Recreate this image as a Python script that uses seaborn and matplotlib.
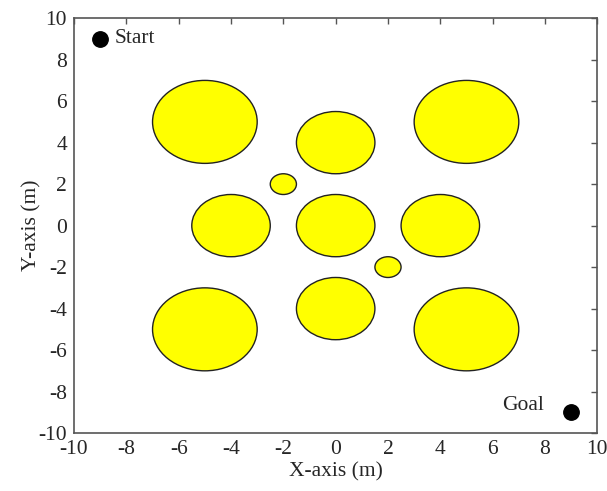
import matplotlib
matplotlib.use("Agg")
import matplotlib.pyplot as plt
from matplotlib.patches import Ellipse
import seaborn as sns
import pandas as pd

sns.set_style("white")
plt.rcParams['font.family'] = ['Liberation Serif', 'DejaVu Serif']

# Obstacles: centre x, centre y, radius
obs_x = [-5, 5, -5, 5, 0, 0, 0, -4, 4, -2, 2]
obs_y = [5, 5, -5, -5, 4, 0, -4, 0, 0, 2, -2]
obs_r = [2, 2, 2, 2, 1.5, 1.5, 1.5, 1.5, 1.5, 0.5, 0.5]

point_names = ["Start", "Goal"]
point_x = [-9, 9]
point_y = [9, -9]

ticks = list(range(-10, 11, 2))

fig = plt.figure(figsize=(6.07, 4.91), dpi=100)
ax = fig.add_axes([0.122, 0.118, 0.862, 0.845])

for cx, cy, r in zip(obs_x, obs_y, obs_r):
    ax.add_patch(Ellipse((cx, cy), 2 * r, 2 * r, facecolor="#ffff00",
                         edgecolor="#222222", linewidth=1.0, zorder=2))

df = pd.DataFrame({"x": point_x, "y": point_y, "name": point_names})
sns.scatterplot(data=df, x="x", y="y", ax=ax, color="black", s=125,
                edgecolor="black", zorder=3, legend=False)

ax.text(-8.45, 9, "Start", fontsize=15.5, va="center", ha="left")
ax.text(7.95, -8.65, "Goal", fontsize=15.5, va="center", ha="right")

ax.set_xlim(-10, 10)
ax.set_ylim(-10, 10)
ax.set_xticks(ticks)
ax.set_yticks(ticks)
ax.set_xticklabels([str(t) for t in ticks])
ax.set_yticklabels([str(t) for t in ticks])
ax.tick_params(direction="in", length=4, width=1, color="#555555",
               labelsize=15.5, top=True, right=True, pad=5)
for sp in ax.spines.values():
    sp.set_visible(True)
    sp.set_color("#555555")
    sp.set_linewidth(1.2)

ax.set_xlabel("X-axis (m)", fontsize=15.5, labelpad=2)
ax.set_ylabel("Y-axis (m)", fontsize=15.5, labelpad=-2)

fig.savefig("out.png", dpi=100)
